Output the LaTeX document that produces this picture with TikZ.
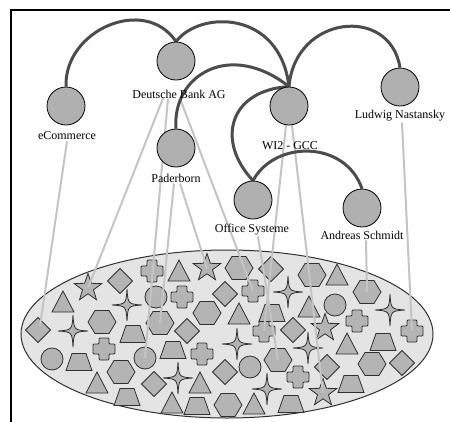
\documentclass[tikz,border=0pt]{standalone}
\usepackage{fontspec}
\setmainfont{Liberation Serif}
\usetikzlibrary{shapes.geometric,backgrounds}
\definecolor{nodefill}{HTML}{B0B0B0}
\definecolor{shapefill}{HTML}{B4B4B4}
\definecolor{ellfill}{HTML}{E4E4E4}
\definecolor{arcgray}{HTML}{4C4C4C}
\definecolor{linkgray}{HTML}{C4C4C4}
\definecolor{edgegray}{HTML}{303030}
\tikzset{
  person/.style={circle, draw=black, line width=0.8pt, fill=nodefill, minimum size=38pt, inner sep=0pt},
  lbl/.style={inner sep=0pt, font=\fontsize{12}{14}\selectfont},
  tie/.style={draw=arcgray, line width=3pt},
  link/.style={draw=linkgray, line width=2pt},
  shp/.style={draw=edgegray, fill=shapefill, line width=0.8pt},
  pool/.style={ellipse, draw=edgegray, fill=ellfill, line width=1pt, minimum width=412pt, minimum height=168pt, inner sep=0pt},
  dia/.pic={\path[shp] (0,-12.5)--(12.5,0)--(0,12.5)--(-12.5,0)--cycle;},
  hexa/.pic={\path[shp] (-14,0)--(-7,-11.5)--(7,-11.5)--(14,0)--(7,11.5)--(-7,11.5)--cycle;},
  tri/.pic={\path[shp] (-11,10)--(11,10)--(0,-11)--cycle;},
  circ/.pic={\path[shp] (0,0) circle (11pt);},
  plus/.pic={\path[shp, rounded corners=1pt] (-5,-11)--(5,-11)--(5,-5)--(11,-5)--(11,5)--(5,5)--(5,11)--(-5,11)--(-5,5)--(-11,5)--(-11,-5)--(-5,-5)--cycle;},
  starfive/.pic={\path[shp] (270:14.5)--(306:5.8)--(342:14.5)--(18:5.8)--(54:14.5)--(90:5.8)--(126:14.5)--(162:5.8)--(198:14.5)--(234:5.8)--cycle;},
  starfour/.pic={\path[shp] (0,-16) .. controls (1,-1) .. (15,0) .. controls (1,1) .. (0,16) .. controls (-1,1) .. (-15,0) .. controls (-1,-1) .. (0,-16) -- cycle;},
  trap/.pic={\path[shp] (-13,8.5)--(13,8.5)--(7,-8.5)--(-7,-8.5)--cycle;}
}
\begin{document}
\begin{tikzpicture}[x=1pt,y=-1pt]
\useasboundingbox (0,0) rectangle (450,421);
% people / groups (main layer, above everything else)
\node[person] (db) at (176,61) {};
\node[person] (ecom) at (66,106) {};
\node[person] (pad) at (176,148) {};
\node[person] (wi) at (289,106) {};
\node[person] (lud) at (400,87) {};
\node[person] (off) at (253,200) {};
\node[person] (and) at (362,208) {};
\node[lbl] (ldb) at (179,94) {Deutsche Bank AG};
\node[lbl] (lecom) at (67,136) {eCommerce};
\node[lbl] (lpad) at (176,178) {Paderborn};
\node[lbl] (lwi) at (290,146) {WI2 - GCC};
\node[lbl] (llud) at (400,116) {Ludwig Nastansky};
\node[lbl] (loff) at (252,230) {Office Systeme};
\node[lbl] (land) at (362,235) {Andreas Schmidt};
% targets of the links
\coordinate (t1) at (40,326);
\coordinate (t2) at (88,288);
\coordinate (t3) at (145,358);
\coordinate (t4) at (160,323);
\coordinate (t5) at (207,268);
\coordinate (t6) at (253,291);
\coordinate (t7) at (264,331);
\coordinate (t8) at (278,360);
\coordinate (t9) at (323,393);
\coordinate (t10) at (367,292);
\coordinate (t11) at (412,331);
\begin{pgfonlayer}{background}
% window frame
\draw[line width=2pt] (11,425) -- (11,10) -- (455,10);
% pool of objects
\node[pool] (pool) at (227,334) {};
\foreach \px/\py in {120/281,38/330,225/294,271/269,187/331,293/330,225/372,327/367,402/363,154/384}
  \pic at (\px,\py) {dia};
\foreach \px/\py in {239/268,312/275,367/292,102/322,160/323,207/313,121/372,278/360,372/364,228/405}
  \pic at (\px,\py) {hexa};
\foreach \px/\py in {179/271,337/275,63/302,239/314,309/307,347/344,97/383,200/383,172/403,254/404}
  \pic at (\px,\py) {tri};
\foreach \px/\py in {156/297,335/305,52/359,145/358,250/367}
  \pic at (\px,\py) {circ};
\foreach \px/\py in {152/271,182/297,253/291,264/331,357/321,412/331,104/349,202/354,298/377}
  \pic at (\px,\py) {plus};
\foreach \px/\py in {88/288,207/268,325/328,323/393}
  \pic at (\px,\py) {starfive};
\foreach \px/\py in {127/305,73/331,288/292,390/310,237/344,308/348,178/378,267/389}
  \pic at (\px,\py) {starfour};
\foreach \px/\py in {272/313,383/342,133/334,79/362,173/350,351/384,127/397,197/406,291/404}
  \pic at (\px,\py) {trap};
% links into the pool
\draw[link] ([yshift=-1pt]lecom.south) -- (t1);
\draw[link] ([xshift=-16pt]ldb.south) -- (t2);
\draw[link] ([xshift=-11pt]ldb.south) -- (t3);
\draw[link] ([xshift=-2pt,yshift=-1pt]lpad.south) -- (t4);
\draw[link] ([xshift=4pt,yshift=-1pt]lpad.south) -- (t5);
\draw[link] ([xshift=1pt]ldb.south) -- (t6);
\draw[link] ([xshift=-3pt]wi.south) -- (t7);
\draw[link] ([xshift=6pt,yshift=-1pt]loff.south) -- (t8);
\draw[link] ([xshift=3pt]wi.south) -- (t9);
\draw[link] ([xshift=4pt,yshift=-1pt]land.south) -- (t10);
\draw[link] ([xshift=2pt,yshift=-1pt]llud.south) -- (t11);
% relationship arcs
\draw[tie] (ecom.north) .. controls (64,30) and (145,-5) .. (db.north);
\draw[tie] (db.north) .. controls (200,10) and (280,10) .. (wi.north);
\draw[tie] (wi.north) .. controls (295,15) and (390,5) .. (lud.north);
\draw[tie] (pad.north) .. controls (172,75) and (230,40) .. (wi.north);
\draw[tie] (off.north) .. controls (215,140) and (230,90) .. (wi.north);
\draw[tie] (off.north) .. controls (275,140) and (345,140) .. (and.north);
\end{pgfonlayer}
\end{tikzpicture}
\end{document}
